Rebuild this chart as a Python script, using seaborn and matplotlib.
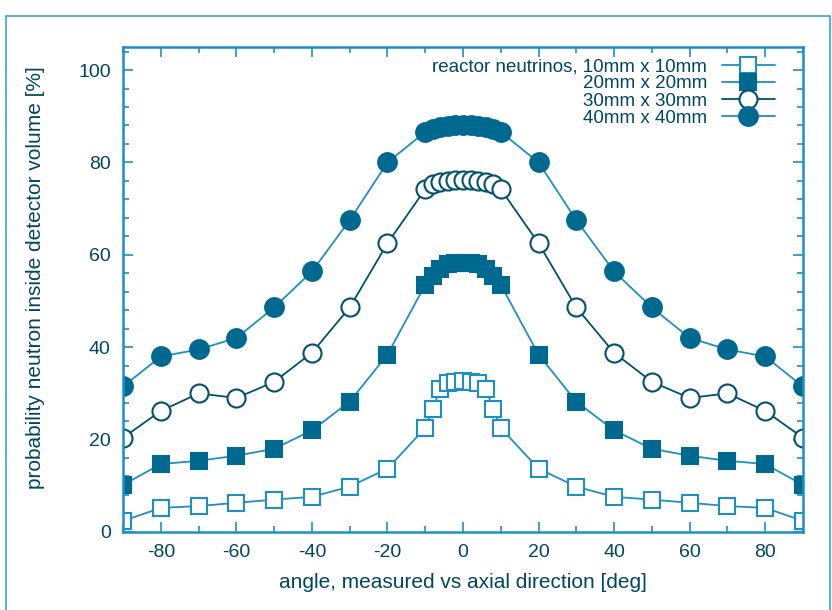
import matplotlib
matplotlib.use("Agg")
import matplotlib.pyplot as plt
import seaborn as sns
from matplotlib.patches import Rectangle
from matplotlib.ticker import MultipleLocator

# data
angles = [-90, -80, -70, -60, -50, -40, -30, -20, -10, -8, -6, -4, -2, 0,
          2, 4, 6, 8, 10, 20, 30, 40, 50, 60, 70, 80, 90]
p10 = [2.4, 5.2, 5.6, 6.3, 7.0, 7.6, 9.8, 13.7, 22.5, 26.7, 31.0, 32.2, 32.5, 32.6,
       32.5, 32.2, 31.0, 26.7, 22.5, 13.7, 9.8, 7.6, 7.0, 6.3, 5.6, 5.2, 2.4]
p20 = [10.2, 14.7, 15.4, 16.5, 18.0, 22.0, 28.2, 38.4, 53.5, 55.5, 57.0, 58.0, 58.2, 58.3,
       58.2, 58.0, 57.0, 55.5, 53.5, 38.4, 28.2, 22.0, 18.0, 16.5, 15.4, 14.7, 10.2]
p30 = [20.4, 26.2, 30.0, 29.0, 32.5, 38.8, 48.6, 62.5, 74.2, 75.3, 75.8, 76.0, 76.2, 76.3,
       76.2, 76.0, 75.8, 75.3, 74.2, 62.5, 48.6, 38.8, 32.5, 29.0, 30.0, 26.2, 20.4]
p40 = [31.5, 38.0, 39.5, 42.0, 48.6, 56.4, 67.5, 80.0, 86.6, 87.2, 87.6, 87.9, 88.0, 88.1,
       88.0, 87.9, 87.6, 87.2, 86.6, 80.0, 67.5, 56.4, 48.6, 42.0, 39.5, 38.0, 31.5]
labels = ["reactor neutrinos, 10mm x 10mm", "20mm x 20mm", "30mm x 30mm", "40mm x 40mm"]

# colours
FILL = "#00698f"
LIGHT = "#1e8fc3"
DARK = "#00506e"
TEXT = "#00465f"

sns.set_style("ticks")
plt.rcParams["font.family"] = ["Liberation Sans", "DejaVu Sans"]
plt.rcParams["axes.unicode_minus"] = False

fig = plt.figure(figsize=(8.32, 6.1), dpi=100)
ax = fig.add_axes([0.148, 0.128, 0.817, 0.795])

# outer frame around the figure
fig.patches.append(Rectangle((6 / 832, -0.01), 824 / 832, 1 - 16 / 610 + 0.01,
                             transform=fig.transFigure, fill=False,
                             edgecolor="#3aa6d0", linewidth=1.2))

styles = [
    (p10, "s", "white", LIGHT, LIGHT, 12),
    (p20, "s", FILL, FILL, LIGHT, 12),
    (p30, "o", "white", DARK, DARK, 13),
    (p40, "o", FILL, FILL, LIGHT, 13.5),
]
for (vals, mk, fc, ec, lc, ms), lab in zip(styles, labels):
    sns.lineplot(x=angles, y=vals, ax=ax, color=lc, linewidth=1.3,
                 marker=mk, markersize=ms, markerfacecolor=fc,
                 markeredgecolor=ec, markeredgewidth=1.5, label=lab)

ax.set_xlim(-90, 90)
ax.set_ylim(0, 105)
ax.xaxis.set_major_locator(MultipleLocator(20))
ax.xaxis.set_minor_locator(MultipleLocator(10))
ax.yaxis.set_major_locator(MultipleLocator(20))
ax.yaxis.set_minor_locator(MultipleLocator(4))
ax.set_xticks([-80, -60, -40, -20, 0, 20, 40, 60, 80])
ax.tick_params(which="both", direction="in", top=True, right=True,
               color=LIGHT, labelcolor=TEXT, labelsize=14, width=1.2)
ax.tick_params(which="major", length=7, pad=9)
ax.tick_params(which="minor", length=4)
for sp in ax.spines.values():
    sp.set_color(LIGHT)
    sp.set_linewidth(1.8)

ax.set_xlabel("angle, measured vs axial direction [deg]", fontsize=15, color=TEXT, labelpad=8)
ax.set_ylabel("probability neutron inside detector volume [%]", fontsize=15, color=TEXT)
ax.yaxis.set_label_coords(-0.115, 0.525)

leg = ax.legend(loc="upper right", bbox_to_anchor=(0.975, 1.0), frameon=False,
                markerfirst=False, fontsize=13.5, handlelength=2.8,
                labelspacing=0.0, handletextpad=0.8, borderaxespad=0.2)
for t in leg.get_texts():
    t.set_color(TEXT)

fig.savefig("out.png", dpi=100)
